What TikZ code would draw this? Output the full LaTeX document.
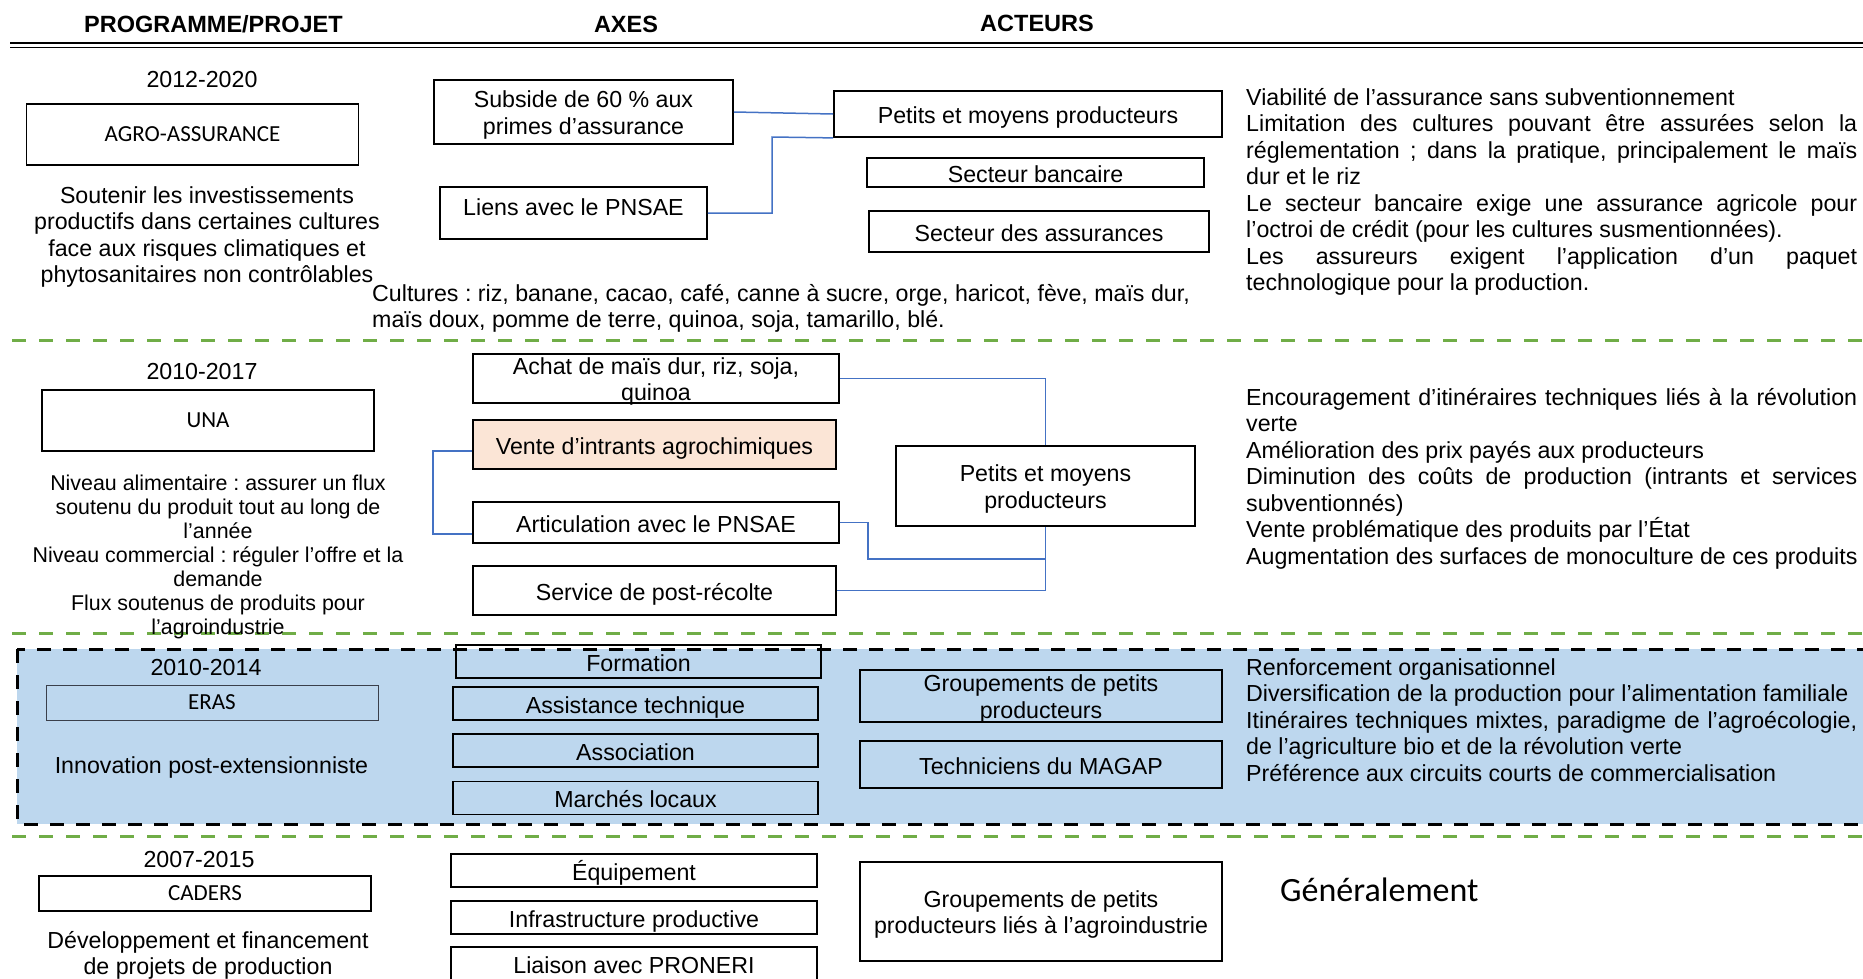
\documentclass[tikz,border=0pt]{standalone}
\usepackage{fontspec}
\setmainfont{Liberation Sans}
\newfontfamily\carlito{Carlito}
\usetikzlibrary{calc}
\definecolor{boxBlue}{HTML}{BDD7EE}
\definecolor{linkBlue}{HTML}{4472C4}
\definecolor{sepGreen}{HTML}{70AD47}
\definecolor{lightPeach}{HTML}{FBE5D6}
\definecolor{darkFrame}{HTML}{3A3F4A}
\newcommand{\txt}{\fontsize{23.2pt}{26.5pt}\selectfont}
\newcommand{\smalltxt}{\fontsize{21.4pt}{24pt}\selectfont}
\newcommand{\jline}[1]{{\spaceskip=0pt\xspaceskip=0pt\makebox[611pt][s]{#1}}}

\begin{document}
\frenchspacing
\begin{tikzpicture}[x=1pt, y=-1pt, inner sep=0pt,
    execute at begin node={\spaceskip=\fontdimen2\font\relax},
    boite/.style={draw, line width=1.8pt, align=center, font=\txt, text height=19.5pt, text depth=0pt},
    boite2/.style={boite, text height=44pt},
    projet/.style={draw, line width=1.8pt, minimum width=332pt, font=\carlito\fontsize{23pt}{26pt}\selectfont},
    annee/.style={font=\txt},
    lien/.style={draw=linkBlue, line width=1.5pt},
    sep/.style={sepGreen, line width=3pt, dash pattern=on 14pt off 13pt},
    titre/.style={font=\bfseries\fontsize{23.5pt}{26pt}\selectfont},
    texte/.style={font=\txt, align=left, text width=611pt, anchor=base west}]

    \useasboundingbox (0,0) rectangle (1863,978);
    \clip (0,0) rectangle (1863,978);

    % header
    \node [titre] (hProjet) at (213.5,24) {PROGRAMME/PROJET};
    \node [titre] (hAxes) at (626,24) {AXES};
    \node [titre] (hActeurs) at (1037,23) {ACTEURS};
    \draw [line width=2.4pt] (10,43) -- (1863,43);
    \draw [line width=1.6pt] (10,47.3) -- (1863,47.3);

    \foreach \yy in {340,633,836}
        \draw [sep] (12,\yy) -- (1863,\yy);

    \draw [fill=boxBlue, line width=3pt, dash pattern=on 14pt off 12pt] (17,649) rectangle (1900,824);

    % AGRO-ASSURANCE
    \node [annee] (an1) at (202,80) {2012-2020};
    \node [projet, minimum height=61pt] (agro) at (192.5,134.5) {AGRO-ASSURANCE};
    \node [font=\txt, text width=400pt, align=center, anchor=base] (agroDesc) at (207,203) {Soutenir les investissements\\productifs dans certaines cultures\\face aux risques climatiques et\\phytosanitaires non contrôlables};
    \node [boite2, minimum width=299pt, minimum height=64pt] (subside) at (583.5,112) {Subside de 60 \% aux\\primes d’assurance};
    \node [boite, text height=4.7pt, minimum width=267pt, minimum height=52pt] (liens) at (573.5,213) {Liens avec le PNSAE};
    \node [boite, minimum width=388pt, minimum height=46pt] (petits) at (1028,114) {Petits et moyens producteurs};
    \node [boite, minimum width=337pt, minimum height=29pt] (banque) at (1035.5,172.5) {Secteur bancaire};
    \node [boite, minimum width=340pt, minimum height=41pt] (assur) at (1039,231.5) {Secteur des assurances};
    \node [font=\txt, text width=860pt, align=left, anchor=base west] (cultures) at (372,301) {Cultures : riz, banane, cacao, café, canne à sucre, orge, haricot, fève, maïs dur,\\maïs doux, pomme de terre, quinoa, soja, tamarillo, blé.};
    \node [texte] (effets1) at (1246,105) {Viabilité de l’assurance sans subventionnement\\
        \jline{Limitation des cultures pouvant être assurées selon la}\\
        \jline{réglementation ; dans la pratique, principalement le maïs}\\
        dur et le riz\\
        \jline{Le secteur bancaire exige une assurance agricole pour}\\
        l’octroi de crédit (pour les cultures susmentionnées).\\
        \jline{Les assureurs exigent l’application d’un paquet}\\
        technologique pour la production.};

    \coordinate (k1) at (772,137);
    \draw [lien] (subside.east) -- (petits.west);
    \draw [lien] (liens.east) -| (k1) -- (petits.south west);

    % UNA
    \node [annee] (an2) at (202,372) {2010-2017};
    \node [projet, minimum height=61pt] (una) at (208,420.5) {UNA};
    \node [font=\smalltxt, text width=420pt, align=center, anchor=base] (unaDesc) at (218,490) {Niveau alimentaire : assurer un flux\\soutenu du produit tout au long de\\l’année\\Niveau commercial : réguler l’offre et la\\demande\\Flux soutenus de produits pour\\l’agroindustrie};
    \node [boite2, minimum width=366pt, minimum height=49pt] (achat) at (656,378.5) {Achat de maïs dur, riz, soja,\\quinoa};
    \node [boite, fill=lightPeach, minimum width=363pt, minimum height=49pt] (vente) at (654.5,444.5) {Vente d’intrants agrochimiques};
    \node [boite, minimum width=366pt, minimum height=41pt] (artic) at (656,522.5) {Articulation avec le PNSAE};
    \node [boite, minimum width=363pt, minimum height=49pt] (service) at (654.5,590.5) {Service de post-récolte};
    \node [boite2, minimum width=299pt, minimum height=80pt] (petitsUna) at (1045.5,486) {Petits et moyens\\producteurs};
    \node [texte] (effets2) at (1246,405) {\jline{Encouragement d’itinéraires techniques liés à la révolution}\\
        verte\\
        Amélioration des prix payés aux producteurs\\
        \jline{Diminution des coûts de production (intrants et services}\\
        subventionnés)\\
        Vente problématique des produits par l’État\\
        \makebox[611pt][l]{Augmentation des surfaces de monoculture de ces produits}};

    \coordinate (k2) at (868,559);
    \draw [lien] (achat.east) -| (petitsUna.north);
    \draw [lien] (service.east) -| (petitsUna.south);
    \draw [lien] (artic.east) -| (k2) -- (k2 -| petitsUna.south);
    \draw [lien] ([yshift=-6.5pt]vente.west) -- ++(-39,0) |- ([yshift=-11.5pt]artic.west);

    % ERAS
    \node [annee] (an3) at (206,668) {2010-2014};
    \node [draw=darkFrame, line width=1pt, minimum width=332pt, minimum height=35pt, font=\carlito\fontsize{23pt}{26pt}\selectfont] (eras) at (212,702.5) {ERAS};
    \node [font=\txt] (erasDesc) at (211.5,767) {Innovation post-extensionniste};
    \node [boite, minimum width=365pt, minimum height=33pt] (formation) at (638.5,661.5) {Formation};
    \node [boite, minimum width=365pt, minimum height=33pt] (assist) at (635.5,703.5) {Assistance technique};
    \node [boite, minimum width=365pt, minimum height=33pt] (assoc) at (635.5,750.5) {Association};
    \node [boite, minimum width=365pt, minimum height=33pt] (marches) at (635.5,798) {Marchés locaux};
    \node [boite2, minimum width=362pt, minimum height=52pt] (groupes) at (1041,696) {Groupements de petits\\producteurs};
    \node [boite, minimum width=362pt, minimum height=47pt] (techniciens) at (1041,764.5) {Techniciens du MAGAP};
    \node [texte] (effets3) at (1246,675) {Renforcement organisationnel\\
        Diversification de la production pour l’alimentation familiale\\
        \jline{Itinéraires techniques mixtes, paradigme de l’agroécologie,}\\
        de l’agriculture bio et de la révolution verte\\
        Préférence aux circuits courts de commercialisation};

    % CADERS
    \node [annee] (an4) at (199,859) {2007-2015};
    \node [projet, minimum height=35pt] (caders) at (205,893.5) {CADERS};
    \node [font=\txt, text width=400pt, align=center, anchor=base] (cadersDesc) at (208,948) {Développement et financement\\de projets de production};
    \node [boite, minimum width=366pt, minimum height=33pt] (equip) at (634,870.5) {Équipement};
    \node [boite, minimum width=366pt, minimum height=33pt] (infra) at (634,917.5) {Infrastructure productive};
    \node [boite, minimum width=366pt, minimum height=34pt] (liaison) at (634,964) {Liaison avec PRONERI};
    \node [boite2, minimum width=362pt, minimum height=99pt] (groupesAgro) at (1041,911.5) {Groupements de petits\\producteurs liés à l’agroindustrie};
    \node [font=\carlito\fontsize{34pt}{40pt}\selectfont, anchor=base west] (generalement) at (1280,901) {Généralement};
\end{tikzpicture}
\end{document}
